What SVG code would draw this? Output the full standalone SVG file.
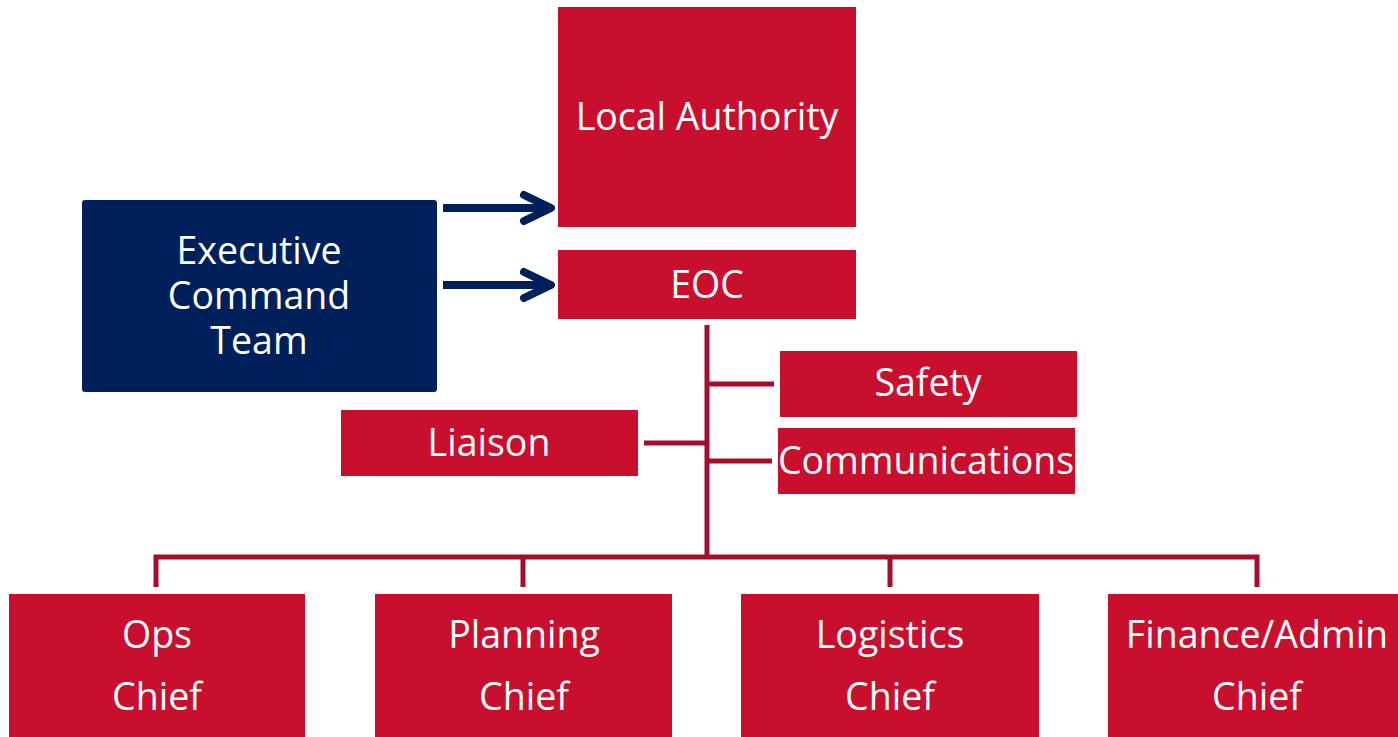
<svg xmlns="http://www.w3.org/2000/svg" width="1398" height="737" viewBox="0 0 1398 737">
<style>
.red{fill:#C8102E}
.navy{fill:#00205B}
.t{font-family:"Open Sans","Noto Sans",sans-serif;font-size:37.5px;fill:#fff;text-anchor:middle;dominant-baseline:central}
.c{stroke:#A50D2B;stroke-width:5;fill:none;stroke-linejoin:miter}
.a{stroke:#00205B;stroke-width:8;fill:none;stroke-linecap:round;stroke-linejoin:round}
</style>
<rect width="1398" height="737" fill="#fff"/>
<g id="connectors">
<path class="c" d="M707 325V557"/>
<path class="c" d="M707 384H774"/>
<path class="c" d="M707 461H772"/>
<path class="c" d="M644 443H707"/>
<path class="c" d="M156 587V557H1257V587"/>
<path class="c" d="M523 557V587"/>
<path class="c" d="M890 557V587"/>
<path class="a" d="M443 208H551" style="stroke-linecap:butt"/>
<path class="a" d="M524 195L551 208L524 221"/>
<path class="a" d="M443 285H551" style="stroke-linecap:butt"/>
<path class="a" d="M524 272L551 285L524 298"/>
</g>
<g id="local-authority"><rect class="red" x="558" y="7" width="298" height="220"/><text class="t" x="707" y="115">Local Authority</text></g>
<g id="eoc"><rect class="red" x="558" y="250" width="298" height="69"/><text class="t" x="707" y="283">EOC</text></g>
<g id="executive"><rect class="navy" x="82" y="200" width="355" height="192" rx="3"/><text class="t" x="259" y="249">Executive</text><text class="t" x="259" y="294">Command</text><text class="t" x="259" y="339">Team</text></g>
<g id="safety"><rect class="red" x="780" y="351" width="297" height="66"/><text class="t" x="928" y="381">Safety</text></g>
<g id="communications"><rect class="red" x="778" y="428" width="297" height="66"/><text class="t" x="926" y="459">Communications</text></g>
<g id="liaison"><rect class="red" x="341" y="410" width="297" height="66"/><text class="t" x="489" y="441">Liaison</text></g>
<g id="ops"><rect class="red" x="9" y="594" width="296" height="150"/><text class="t" x="157" y="633">Ops</text><text class="t" x="157" y="695">Chief</text></g>
<g id="planning"><rect class="red" x="375" y="594" width="297" height="150"/><text class="t" x="524" y="633">Planning</text><text class="t" x="524" y="695">Chief</text></g>
<g id="logistics"><rect class="red" x="741" y="594" width="298" height="150"/><text class="t" x="890" y="633">Logistics</text><text class="t" x="890" y="695">Chief</text></g>
<g id="finance"><rect class="red" x="1108" y="594" width="295" height="150"/><text class="t" x="1257" y="633">Finance/Admin</text><text class="t" x="1257" y="695">Chief</text></g>
</svg>
